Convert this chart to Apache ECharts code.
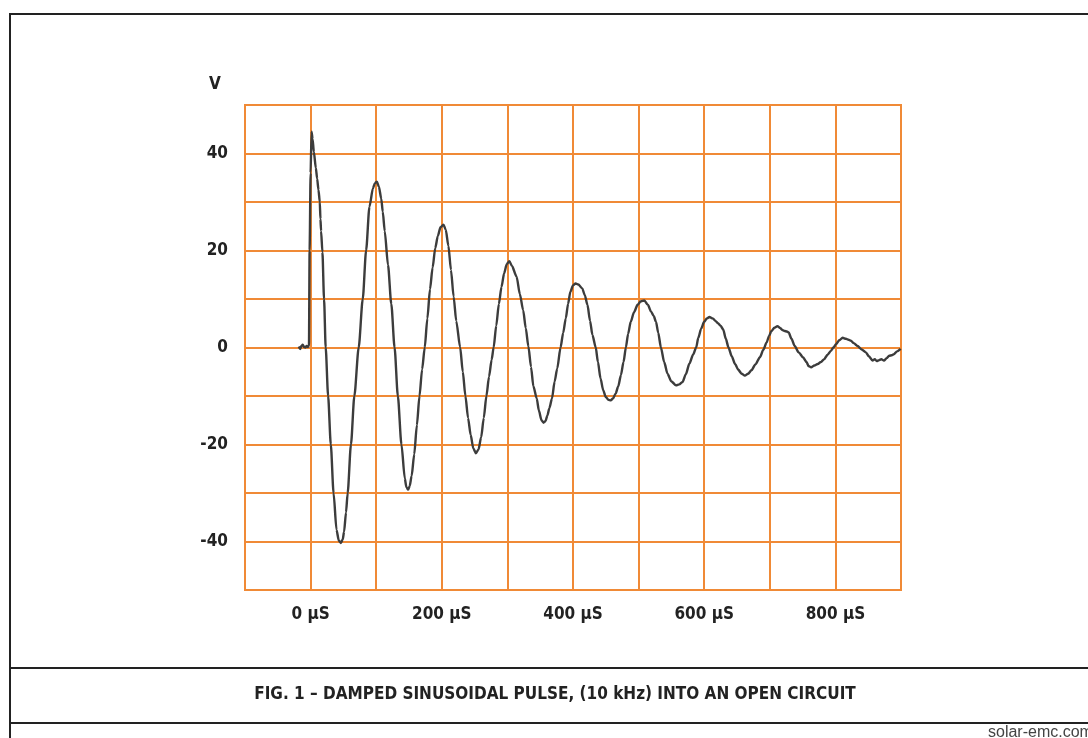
<!DOCTYPE html>
<html>
<head>
<meta charset="utf-8">
<script src="https://cdn.jsdelivr.net/npm/echarts@6/dist/echarts.min.js"></script>
<style>
html,body{margin:0;padding:0;background:#fff;}
#chart{width:1088px;height:738px;}
</style>
</head>
<body>
<div id="chart"></div>
<script>
// time in microseconds, voltage in volts
const timeUs = [
 -18,-16,-14,-12,-10,-8,-6,-4,-2.5,
 -1.5,0,1.5,
 3,5,8,10,12,14,15,16,18,20.5,23,26.7,30.8,35,39.5,43,46,49,51,54,56.5,61.5,66.7,73.3,79.5,84.6,89.7,95,98,101,104,107.7,110,113,118,123,128,133,138.5,143.6,146,148.7,151,154,158,162,166,170,174,178,182,186,190,194,198,202.5,206,210,214,218,222,228,232,236,240,244,248,252,256,260,264,268,272,276,279,283,287,291,295,299,303,
 307,314,319,324,328,332,336,339.6,344.7,348,352,355,358,361,364,368,372,376,381,385,389,392.5,396,400,404,408,414,418,422,426,429.6,434.7,438,442,446,450,454,457.6,461,465,469,473,477,480.6,484,488,493,498.5,503,508.7,514,519,523,526.5,530,534,539,544,550,557,562,567,572,577.5,583,587.8,591,595.4,600,604,608,613,617,621,625,629,633,637,642,647,652,657,662,667,672,678,685,690,695,699,702.5,707,711.6,716,719,722.7,726,728.8,733,738,744,750.5,756,759,763,768,773,778,783,788,793,797,801,806,811,816,820,823.7,828,833.8,840,846.5,851,856.6,860,863,866.7,870,874,878,882,886,889,894,899.5
];
const volts = [
 0.2,-0.3,0.3,0.6,0.1,0.0,0.3,0.1,0.4,
 20,36,44.5,
 43,40.3,37,34.8,32.5,30,26.5,24,19.7,10,0,-10,-20,-30,-37.6,-39.8,-40.3,-39.6,-38,-34,-30,-20,-10,0,10,20,29,32.8,33.9,34.2,33.2,30.7,28,24,17,9,0,-10,-20,-27,-28.8,-29.3,-28.6,-26.5,-22,-16,-10,-4.5,0,6,12,16.5,20.5,23,24.8,25.3,24.3,21,16,10.5,5.5,0,-5,-10,-14.5,-18,-20.8,-21.8,-21,-18.5,-14.5,-10,-6,-2.5,0,4.5,9,12.5,15.3,17.2,17.8,
 16.8,14.6,11,7.7,4,0.2,-4,-8,-10.5,-13,-15,-15.5,-15.2,-14,-12.5,-10.5,-7,-4.3,0,3,6,9,11.5,12.8,13.2,13,12.2,10.8,8.8,5.5,2.6,0,-3,-6.4,-8.8,-10.2,-10.8,-10.9,-10.5,-9.5,-8,-5.7,-3,0,2.8,5.3,7.3,8.8,9.5,9.7,8.8,7.4,6.5,5.3,3,0,-3,-5.4,-7,-7.8,-7.6,-7.1,-5.5,-3.3,-1.5,0,2,3.9,5.3,6,6.3,6,5.5,5,4.5,3.7,1.8,0,-1.8,-3.4,-4.6,-5.4,-5.8,-5.4,-4.7,-3.5,-2,-0.5,1,2.4,3.4,4.1,4.4,4,3.6,3.4,3.3,3.1,1.8,0.3,-1,-2,-3,-3.8,-4.1,-3.7,-3.4,-3,-2.4,-1.5,-0.7,0,0.7,1.5,2,1.8,1.6,1.4,0.9,0.3,-0.4,-1,-1.8,-2.7,-2.4,-2.8,-2.6,-2.4,-2.7,-2.2,-1.7,-1.6,-1.4,-0.8,-0.3
];
const xTickLabels = [0, 200, 400, 600, 800];   // µS
const yTickLabels = [40, 20, 0, -20, -40];      // V
const titleText = 'FIG. 1 \u2013 DAMPED SINUSOIDAL PULSE, (10 kHz) INTO AN OPEN CIRCUIT';
const sourceText = 'solar-emc.com';

const seriesData = timeUs.map((t, i) => [t, volts[i]]);
const gridColor = '#F08A36';
const labelFont = "'DejaVu Sans Condensed','Liberation Sans Narrow',Arial,sans-serif";

const chart = echarts.init(document.getElementById('chart'), null, {renderer: 'canvas'});
chart.setOption({
  backgroundColor: '#ffffff',
  animation: false,
  grid: {left: 245, right: 187, top: 105, bottom: 148, show: true, borderColor: gridColor, borderWidth: 2, backgroundColor: 'transparent'},
  xAxis: {
    type: 'value', min: -100, max: 900, interval: 100,
    axisLine: {show: false}, axisTick: {show: false},
    splitLine: {show: true, lineStyle: {color: gridColor, width: 2}},
    axisLabel: {
      margin: 16, color: '#222', fontFamily: labelFont, fontWeight: 'bold', fontSize: 17,
      formatter: v => xTickLabels.includes(v) ? v + ' \u00b5S' : ''
    }
  },
  yAxis: {
    type: 'value', min: -50, max: 50, interval: 10,
    axisLine: {show: false}, axisTick: {show: false},
    splitLine: {show: true, lineStyle: {color: gridColor, width: 2}},
    axisLabel: {
      margin: 17, color: '#222', fontFamily: labelFont, fontWeight: 'bold', fontSize: 17,
      formatter: v => yTickLabels.includes(v) ? String(v) : ''
    }
  },
  series: [{
    type: 'line', data: seriesData, showSymbol: false, smooth: 0.25, smoothMonotone: 'x',
    lineStyle: {color: '#3c3c3c', width: 2.4}, z: 5
  }],
  graphic: [
    {type: 'text', left: 209, top: 76, style: {text: 'V', font: "bold 17px " + labelFont, fill: '#222'}},
    {type: 'line', shape: {x1: 10, y1: 14, x2: 1090, y2: 14}, style: {stroke: '#222', lineWidth: 2}},
    {type: 'line', shape: {x1: 10, y1: 13, x2: 10, y2: 738}, style: {stroke: '#222', lineWidth: 2}},
    {type: 'line', shape: {x1: 10, y1: 668, x2: 1090, y2: 668}, style: {stroke: '#222', lineWidth: 2}},
    {type: 'line', shape: {x1: 10, y1: 723, x2: 1090, y2: 723}, style: {stroke: '#222', lineWidth: 2}},
    {type: 'text', x: 555, y: 695, style: {text: titleText, font: "bold 17px " + labelFont, fill: '#222', textAlign: 'center', textVerticalAlign: 'middle'}},
    {type: 'text', x: 988, y: 733, style: {text: sourceText, font: "16px 'Liberation Sans',Arial,sans-serif", fill: '#444', textAlign: 'left', textVerticalAlign: 'middle'}}
  ]
});
</script>
</body>
</html>
